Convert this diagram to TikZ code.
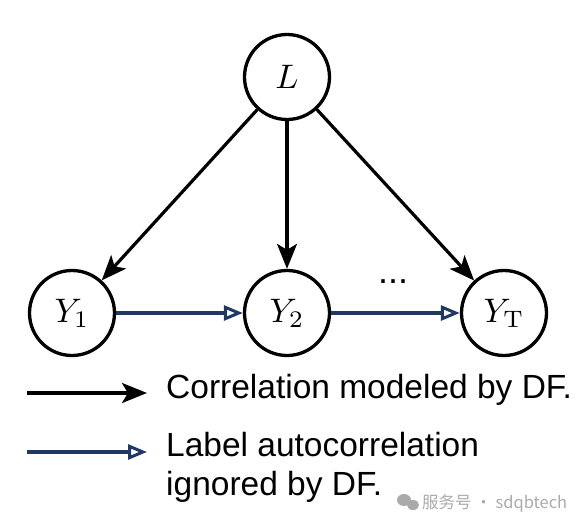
\documentclass[tikz,border=0pt]{standalone}
\usepackage[no-math]{fontspec}
\usepackage{graphicx}
\setmainfont{Liberation Sans}
\newfontfamily\cjkfont{Noto Sans CJK SC}
\usetikzlibrary{arrows.meta}
\definecolor{navy}{RGB}{31,56,100}
\definecolor{wmgray}{RGB}{170,170,170}
\newcommand{\varlabel}[1]{\scalebox{3.4}{$#1$}}
\begin{document}
\begin{tikzpicture}[x=1pt,y=-1pt,
  var/.style={circle,draw=black,line width=3.3pt,minimum size=85pt,inner sep=0pt},
  corr/.style={line width=3.2pt,-{Stealth[length=25pt,width=20pt,inset=6pt]}},
  auto/.style={line width=3.2pt,draw=navy,-{Triangle[open,length=19pt,width=15pt,line width=3pt]}},
  legtext/.style={anchor=west,font=\fontsize{33.5}{40}\selectfont,inner sep=0pt}]
\useasboundingbox (0,0) rectangle (579,525);
\node[var] (L) at (287,77) {\varlabel{L}};
\node[var] (Y1) at (72,313) {\varlabel{Y_1}};
\node[var] (Y2) at (287,313) {\varlabel{Y_2}};
\node[var] (YT) at (504,313) {\varlabel{Y_{\mathrm{T}}}};
\draw[corr] (L) -- (Y1);
\draw[corr] (L) -- (Y2);
\draw[corr] (L) -- (YT);
\draw[auto] (Y1) -- (Y2);
\draw[auto] (Y2) -- (YT);
\node[font=\fontsize{36}{40}\selectfont,inner sep=0pt] (dots) at (393,282) {...};
% legend
\coordinate (la) at (27,393);
\coordinate (lb) at (147,393);
\draw[corr] (la) -- (lb);
\node[legtext] (t1) at (166,390) {Correlation modeled by DF.};
\coordinate (ma) at (27,452);
\coordinate (mb) at (147,452);
\draw[auto] (ma) -- (mb);
\node[legtext] (t2) at (166,445) {Label autocorrelation};
\node[legtext] (t3) at (166,487) {ignored by DF.};
% watermark
\fill[wmgray] (404,500) ellipse (7pt and 6pt);
\fill[wmgray] (413,505) ellipse (6pt and 5pt);
\node[anchor=west,inner sep=0pt,text=wmgray,font=\fontsize{16.5}{18}\selectfont] (wm) at (422,503) {\cjkfont 服务号 · sdqbtech};
\end{tikzpicture}
\end{document}
